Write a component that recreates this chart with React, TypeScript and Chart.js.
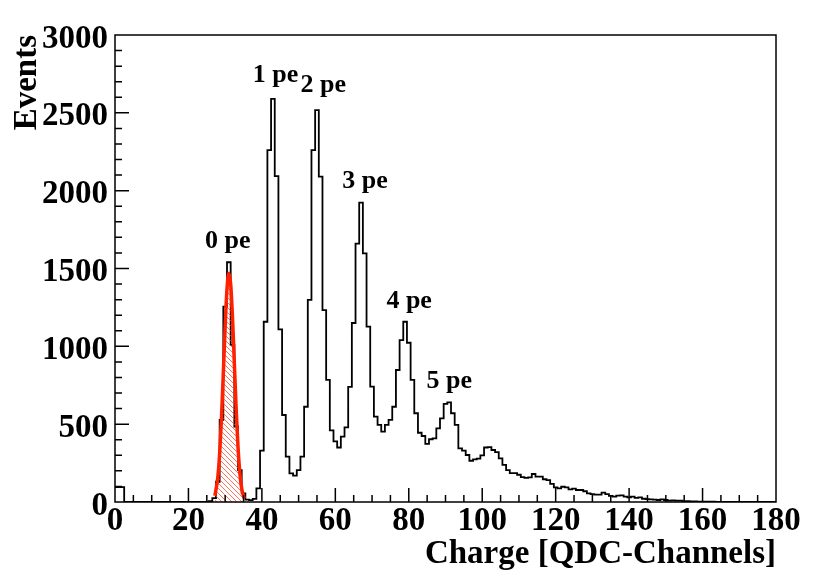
import { useEffect, useRef } from "react";
import { Chart, registerables } from "chart.js";

Chart.register(...registerables);

// QDC channel spectrum, one bin per channel starting at channel 0
const counts = [
  95, 95, 95, 0, 0, 0, 0, 0, 0, 0,
  0, 0, 0, 0, 0, 0, 0, 0, 0, 0,
  0, 0, 0, 0, 0, 0, 5, 25, 130, 527,
  1255, 1540, 1010, 485, 205, 56, 15, 12, 20, 88,
  330, 1158, 2261, 2590, 2094, 1109, 559, 291, 184, 170,
  205, 291, 612, 1298, 2261, 2518, 2090, 1233, 784, 460,
  390, 350, 420, 480, 740, 1150, 1660, 1923, 1597, 1126,
  741, 548, 495, 452, 495, 527, 612, 848, 1040, 1158,
  1023, 784, 570, 445, 424, 373, 403, 409, 473, 537,
  630, 640, 570, 495, 345, 330, 302, 265, 274, 278,
  300, 350, 353, 334, 320, 280, 238, 205, 185, 185,
  175, 160, 155, 158, 180, 163, 163, 146, 141, 116,
  94, 88, 98, 94, 81, 86, 77, 77, 69, 56,
  51, 47, 47, 60, 51, 39, 34, 41, 43, 34,
  30, 34, 26, 30, 21, 19, 17, 15, 13, 17,
  13, 9, 11, 9, 9, 6, 5, 4, 4, 3,
  3, 2, 2, 2, 1, 1, 1, 0, 0, 0,
  0, 0, 0, 0, 0, 0, 0, 0, 0, 0, 0,
];

// gaussian fit of the pedestal (0 pe)
const fitX = [27.2, 28, 28.5, 29, 29.5, 30, 30.5, 31, 31.5, 32, 32.5, 33, 33.5, 34, 34.5, 35.2];
const fitY = [40, 160, 313, 540, 830, 1130, 1370, 1470, 1400, 1185, 890, 595, 352, 186, 87, 24];

const peLabels = ["0 pe", "1 pe", "2 pe", "3 pe", "4 pe", "5 pe"];
const peLabelX = [30.7, 43.7, 56.7, 68.1, 80.1, 91.0];
const peLabelY = [1632, 2698, 2634, 2017, 1246, 732];

const serif = "'Liberation Serif', 'Times New Roman', serif";

function hatch(): CanvasPattern | string {
  const c = document.createElement("canvas");
  c.width = 5;
  c.height = 5;
  const g = c.getContext("2d");
  if (!g) return "rgba(255,0,0,0.3)";
  g.strokeStyle = "rgba(255,60,30,0.9)";
  g.lineWidth = 0.8;
  g.beginPath();
  g.moveTo(-1, -1);
  g.lineTo(6, 6);
  g.moveTo(-1, 4);
  g.lineTo(1, 6);
  g.moveTo(4, -1);
  g.lineTo(6, 1);
  g.stroke();
  return g.createPattern(c, "repeat") ?? "rgba(255,0,0,0.3)";
}

const rootFrame = {
  id: "rootFrame",
  afterDatasetsDraw(chart: any) {
    const { ctx, chartArea: a, scales } = chart;
    const xs = scales.x;
    const ys = scales.y;
    ctx.save();
    ctx.strokeStyle = "#000";
    ctx.lineWidth = 1.5;
    ctx.strokeRect(a.left, a.top, a.right - a.left, a.bottom - a.top);
    ctx.beginPath();
    for (let v = 5; v < 180; v += 5) {
      const px = xs.getPixelForValue(v);
      const len = v % 20 === 0 ? 14 : 7;
      ctx.moveTo(px, a.bottom);
      ctx.lineTo(px, a.bottom - len);
    }
    for (let v = 100; v < 3000; v += 100) {
      const py = ys.getPixelForValue(v);
      const len = v % 500 === 0 ? 14 : 7;
      ctx.moveTo(a.left, py);
      ctx.lineTo(a.left + len, py);
    }
    ctx.stroke();

    ctx.fillStyle = "#000";
    ctx.font = `bold 26px ${serif}`;
    ctx.textAlign = "center";
    ctx.textBaseline = "alphabetic";
    peLabels.forEach((t, i) => {
      ctx.fillText(t, xs.getPixelForValue(peLabelX[i]), ys.getPixelForValue(peLabelY[i]));
    });
    ctx.restore();
  },
};

export default function App() {
  const canvasRef = useRef<HTMLCanvasElement>(null);

  useEffect(() => {
    if (!canvasRef.current) return;

    const chart = new Chart(canvasRef.current, {
      type: "line",
      data: {
        datasets: [
          {
            label: "fit",
            data: fitX.map((x, i) => ({ x, y: fitY[i] })),
            borderColor: "#ff2000",
            borderWidth: 3.5,
            backgroundColor: hatch() as any,
            fill: "origin",
            cubicInterpolationMode: "monotone",
            pointRadius: 0,
          },
          {
            label: "spectrum",
            data: counts.map((y, i) => ({ x: i, y })),
            borderColor: "#000",
            borderWidth: 1.8,
            stepped: "middle",
            fill: false,
            pointRadius: 0,
          },
        ],
      },
      options: {
        responsive: false,
        animation: false,
        layout: { padding: { top: 35, right: 54, left: 0, bottom: 0 } },
        plugins: {
          legend: { display: false },
          tooltip: { enabled: false },
        },
        scales: {
          x: {
            type: "linear",
            min: 0,
            max: 180,
            grid: { display: false, drawTicks: false },
            border: { display: false },
            ticks: {
              stepSize: 20,
              color: "#000",
              padding: 0,
              maxRotation: 0,
              autoSkip: false,
              font: { family: serif, size: 33, weight: "bold" },
            },
            title: {
              display: true,
              text: "Charge [QDC-Channels]",
              align: "end",
              color: "#000",
              padding: { top: 0, bottom: 13 },
              font: { family: serif, size: 33, weight: "bold" },
            },
            afterFit: (s: any) => {
              s.height = 85;
            },
          },
          y: {
            min: 0,
            max: 3000,
            grid: { display: false, drawTicks: false },
            border: { display: false },
            ticks: {
              stepSize: 500,
              color: "#000",
              padding: 7,
              // empty first line nudges the number a few px below the tick
              callback: (v: any) => ["", String(v)],
              font: { family: serif, size: 33, weight: "bold", lineHeight: "8px" },
            },
            title: {
              display: true,
              text: "Events",
              align: "end",
              color: "#000",
              padding: { top: 8, bottom: 0 },
              font: { family: serif, size: 33, weight: "bold" },
            },
            afterFit: (s: any) => {
              s.width = 115;
            },
          },
        },
      },
      plugins: [rootFrame],
    });

    return () => chart.destroy();
  }, []);

  return (
    <div style={{ position: "absolute", left: 0, top: 0, width: 830, height: 587, background: "#fff" }}>
      <canvas ref={canvasRef} width={830} height={587} />
    </div>
  );
}
